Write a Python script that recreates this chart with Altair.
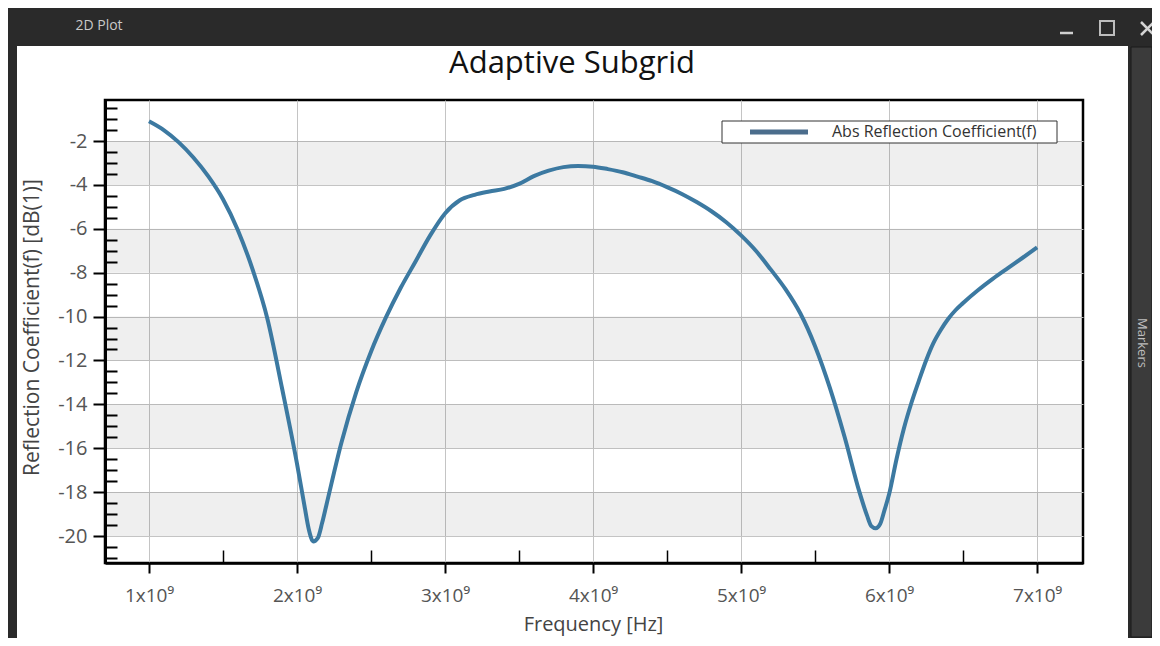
import altair as alt
import pandas as pd

# ---------------- data ----------------
freq_ghz = [1.00, 1.10, 1.20, 1.30, 1.40, 1.50, 1.60, 1.70, 1.80, 1.90,
            2.00, 2.05, 2.08, 2.11, 2.14, 2.17, 2.20, 2.30, 2.40, 2.50,
            2.60, 2.70, 2.80, 2.90, 3.00, 3.10, 3.20, 3.30, 3.40, 3.50,
            3.60, 3.70, 3.80, 3.90, 4.00, 4.10, 4.20, 4.30, 4.40, 4.50,
            4.60, 4.70, 4.80, 4.90, 5.00, 5.10, 5.20, 5.30, 5.40, 5.50,
            5.60, 5.70, 5.80, 5.85, 5.88, 5.91, 5.94, 5.97, 6.00, 6.05,
            6.10, 6.15, 6.20, 6.25, 6.30, 6.35, 6.40, 6.45, 6.50, 6.60,
            6.70, 6.80, 6.90, 7.00]
refl_db = [-1.10, -1.50, -2.05, -2.75, -3.60, -4.65, -6.05, -7.85, -10.10, -13.30,
           -16.70, -18.60, -19.70, -20.25, -20.10, -19.40, -18.55, -15.75, -13.45, -11.60,
           -10.05, -8.70, -7.50, -6.30, -5.30, -4.70, -4.45, -4.30, -4.18, -3.95,
           -3.60, -3.35, -3.19, -3.14, -3.17, -3.28, -3.42, -3.62, -3.83, -4.10,
           -4.41, -4.78, -5.20, -5.70, -6.30, -7.00, -7.85, -8.75, -9.85, -11.35,
           -13.25, -15.50, -18.00, -19.05, -19.55, -19.65, -19.45, -18.80, -18.10, -16.50,
           -15.10, -13.95, -12.95, -12.00, -11.20, -10.60, -10.10, -9.70, -9.38, -8.80,
           -8.28, -7.80, -7.33, -6.85]

band_top = [-2, -6, -10, -14, -18]
band_bottom = [-4, -8, -12, -16, -20]

x_major = [1e9, 2e9, 3e9, 4e9, 5e9, 6e9, 7e9]
x_minor = [1.5e9, 2.5e9, 3.5e9, 4.5e9, 5.5e9, 6.5e9]
y_major = [-20, -18, -16, -14, -12, -10, -8, -6, -4, -2]
y_minor = [v / 2 for v in range(-42, 0) if v % 4 != 0]

chart_title = "Adaptive Subgrid"
x_title = "Frequency [Hz]"
y_title = "Reflection Coefficient(f) [dB(1)]"
legend_label = "Abs Reflection Coefficient(f)"
window_title = "2D Plot"
side_label = "Markers"

# ---------------- layout ----------------
W, H = 978, 463
PAD = {"left": 97, "top": 92, "right": 69, "bottom": 75}
FONT = "Open Sans"
DARK = "#2a2a2a"

df = pd.DataFrame({"hz": [f * 1e9 for f in freq_ghz], "db": refl_db})
bands_df = pd.DataFrame({"top": band_top, "bottom": band_bottom})
one = alt.Data(values=[{"k": 0}])

xscale = alt.Scale(domain=[0.703e9, 7.31e9], nice=False, zero=False)
yscale = alt.Scale(domain=[-21.23, -0.13], nice=False, zero=False)


def box(x, x2, y, y2, **kw):
    return alt.Chart(one).mark_rect(**kw).encode(
        x=alt.value(x), x2=alt.value(x2), y=alt.value(y), y2=alt.value(y2))


def seg(x, x2, y, y2, **kw):
    return alt.Chart(one).mark_rule(**kw).encode(
        x=alt.value(x), x2=alt.value(x2), y=alt.value(y), y2=alt.value(y2))


def label(text, x, y, **kw):
    return alt.Chart(one).mark_text(text=text, font=FONT, **kw).encode(
        x=alt.value(x), y=alt.value(y))


bands = alt.Chart(bands_df).mark_rect(fill="black", fillOpacity=0.062).encode(
    y=alt.Y("top:Q", scale=yscale, axis=None),
    y2="bottom:Q",
    x=alt.value(0), x2=alt.value(W))

x_axis = alt.Axis(
    orient="bottom", values=x_major,
    labelExpr="format(datum.value / 1e9, 'd') + 'x10⁹'",
    title=x_title, grid=True, gridColor="#c4c4c4", gridWidth=1,
    domainColor="black", domainWidth=2.5,
    tickColor="black", tickWidth=2, tickSize=10,
    labelFont=FONT, labelFontSize=19, labelColor="#555", labelPadding=13,
    labelOverlap=False, labelFlush=False,
    titleFont=FONT, titleFontSize=20, titleFontWeight="normal", titleColor="#444",
    titleX=488, titleY=61, titleAlign="center", titleBaseline="middle")

y_axis = alt.Axis(
    orient="left", values=y_major, labelExpr="'' + datum.value",
    title=y_title, grid=True, gridColor="#c4c4c4", gridWidth=1,
    domainColor="black", domainWidth=3,
    tickColor="black", tickWidth=2, tickSize=12,
    labelFont=FONT, labelFontSize=20, labelColor="#555", labelPadding=6,
    labelOverlap=False,
    titleFont=FONT, titleFontSize=21, titleFontWeight="normal", titleColor="#444",
    titleX=-73, titleY=227, titleAngle=270, titleAlign="center", titleBaseline="middle")

line = alt.Chart(df).mark_line(color="#3c79a1", strokeWidth=4, interpolate="monotone").encode(
    x=alt.X("hz:Q", scale=xscale, axis=x_axis),
    y=alt.Y("db:Q", scale=yscale, axis=y_axis))

minor = alt.Chart(df).mark_point(opacity=0).encode(
    x=alt.X("hz:Q", scale=xscale, axis=alt.Axis(
        orient="top", offset=-H, values=x_minor, labels=False, domain=False,
        grid=False, tickSize=13, tickColor="black", tickWidth=1.5, title=None)),
    y=alt.Y("db:Q", scale=yscale, axis=alt.Axis(
        orient="right", offset=-W, values=y_minor, labels=False, domain=False,
        grid=False, tickSize=12, tickColor="black", tickWidth=2, title=None)))

# legend
legend_box = box(617, 952, 21, 43, fill="white", stroke="#333", strokeWidth=1)
legend_sym = alt.Chart(one).mark_rule(color="#4b6d8c", strokeWidth=5).encode(
    x=alt.value(645), x2=alt.value(703), y=alt.value(32))
legend_txt = label(legend_label, 727, 32, align="left", baseline="middle",
                   fontSize=16, color="#333")

title_txt = label(chart_title, 467, -27, align="center", baseline="alphabetic",
                  fontSize=31, color="#111")

# window chrome
top_bar = box(-97, 1047, -92, -54, fill=DARK)
left_bar = box(-97, -88, -92, 538, fill=DARK)
right_bar = box(1023, 1047, -92, 538, fill=DARK)
right_panel = box(1026, 1047, -53, 537, fill="#3b3b3b", stroke="#1a1a1a", strokeWidth=1)
win_title = label(window_title, -6, -74, align="center", baseline="middle",
                  fontSize=14, color="#c9c9c9")
side_txt = label(side_label, 1037, 243, align="center", baseline="middle",
                 fontSize=13, color="#bdbdbd", angle=90)
btn_min = seg(955, 968, -67, -67, color="#cfcfcf", strokeWidth=2.5)
btn_max = box(995, 1009, -79, -65, fillOpacity=0, stroke="#bdbdbd", strokeWidth=2)
btn_x1 = seg(1036, 1049, -78, -65, color="#d5d5d5", strokeWidth=2.5)
btn_x2 = seg(1036, 1049, -65, -78, color="#d5d5d5", strokeWidth=2.5)

chart = alt.layer(
    bands, line, minor, legend_box, legend_sym, legend_txt, title_txt,
    top_bar, left_bar, right_bar, right_panel, win_title, side_txt,
    btn_min, btn_max, btn_x1, btn_x2,
).resolve_axis(
    x="independent", y="independent"
).properties(
    width=W, height=H,
    autosize=alt.AutoSizeParams(type="none"),
    padding=PAD,
    background="white",
).configure_view(
    stroke="black", strokeWidth=2.5, fill="white"
)

chart.save("out.html", embed_options={"renderer": "svg", "actions": False})
